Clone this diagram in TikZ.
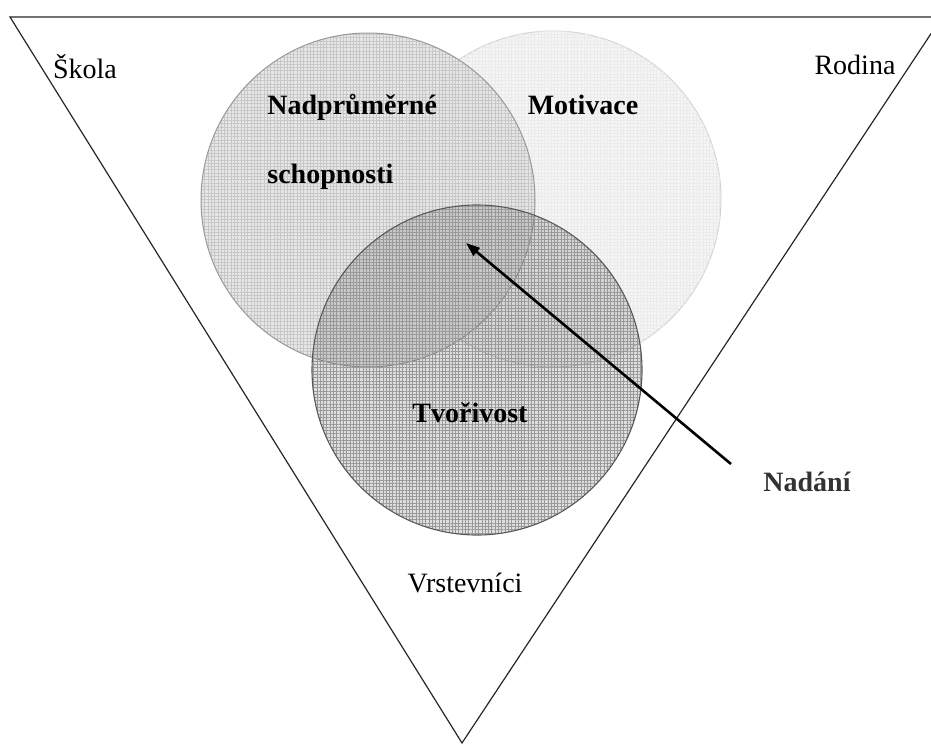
\documentclass[tikz,border=0pt]{standalone}
\usepackage{fontspec}
\setmainfont{Liberation Serif}
\usetikzlibrary{arrows.meta,patterns.meta}
\begin{document}
\begin{tikzpicture}[x=0.5pt,y=-0.5pt,
  lbl/.style={inner sep=0pt,font=\fontsize{14}{16}\selectfont},
  blbl/.style={lbl,font=\fontsize{14}{16}\selectfont\bfseries},
  gridh/.style={pattern={Lines[angle=0,distance=1.65pt,line width=0.3pt]}},
  gridv/.style={pattern={Lines[angle=90,distance=1.65pt,line width=0.3pt]}},
  edge/.style={line width=0.6pt,draw=black!85}]
\useasboundingbox (0,0) rectangle (931,744);
\clip (0,0) rectangle (931,744);
% triangle
\coordinate (tl) at (10,17);
\coordinate (tr) at (942,17);
\coordinate (bt) at (462,743);
\draw[edge,line join=miter] (tl) -- (tr) -- (bt) -- cycle;
% Motivace circle
\path[fill=black!4,draw=black!18,line width=0.5pt] (553,199) circle (168);
\path[gridh,pattern color=black!8] (553,199) circle (168);
\path[gridv,pattern color=black!8] (553,199) circle (168);
% Nadprumerne circle
\path[fill=black!10,fill opacity=0.92] (368,200) circle (167);
\path[gridh,pattern color=black!22] (368,200) circle (167);
\path[gridv,pattern color=black!22] (368,200) circle (167);
\draw[black!40,line width=0.5pt] (368,200) circle (167);
% Tvorivost circle
\path[fill=black,fill opacity=0.13] (477,370) circle (165);
\path[gridh,pattern color=black!40] (477,370) circle (165);
\path[gridv,pattern color=black!40] (477,370) circle (165);
\draw[black!65,line width=0.55pt] (477,370) circle (165);
% labels
\node[lbl] (skola) at (85,67) {Škola};
\node[lbl] (rodina) at (855,65) {Rodina};
\node[blbl,anchor=west] (nadp) at (267,107) {Nadprůměrné};
\node[blbl,anchor=west] (schop) at (267,177) {schopnosti};
\node[blbl] (motiv) at (583,105) {Motivace};
\node[blbl] (tvor) at (470,413) {Tvořivost};
\node[lbl] (vrst) at (465,583) {Vrstevníci};
\node[blbl,text=black!80] (nadani) at (807,482) {Nadání};
% arrow
\coordinate (tail) at (731,464);
\coordinate (tip) at (466,243);
\draw[line width=1.3pt,-{Triangle[length=7pt,width=5pt]}] (tail) -- (tip);
\end{tikzpicture}
\end{document}
